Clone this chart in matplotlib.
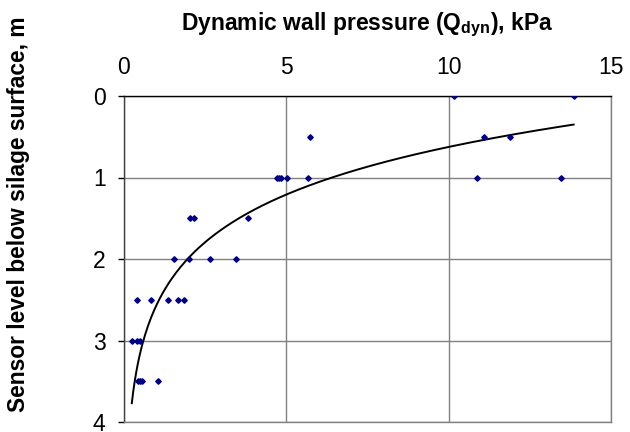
import numpy as np
import matplotlib.pyplot as plt

plt.rcParams['font.family'] = ['Liberation Sans', 'DejaVu Sans']

# dynamic wall pressure (kPa) and sensor level (m)
pressure = [10.16, 13.85,
            5.73, 11.1, 11.89,
            4.71, 4.77, 4.83, 5.02, 5.67, 10.86, 13.45,
            2.03, 2.15, 3.82,
            1.55, 2.01, 2.64, 3.45,
            0.40, 0.82, 1.35, 1.66, 1.85,
            0.24, 0.40, 0.48,
            0.44, 0.49, 0.56, 1.04]
level = [0, 0,
         0.5, 0.5, 0.5,
         1, 1, 1, 1, 1, 1, 1,
         1.5, 1.5, 1.5,
         2, 2, 2, 2,
         2.5, 2.5, 2.5, 2.5, 2.5,
         3, 3, 3,
         3.5, 3.5, 3.5, 3.5]

# log trendline y = a*ln(x) + b
a, b = -0.843, 2.566
xs = np.linspace(min(pressure), max(pressure), 300)
ys = a * np.log(xs) + b

fig = plt.figure(figsize=(6.3, 4.32), dpi=100)
ax = fig.add_axes([124/630, 1-422/432, (611-124)/630, (422-96)/432])

ax.plot(pressure, level, linestyle='none', marker='D', markersize=2.8,
        color='#000080', zorder=3)
ax.plot(xs, ys, color='black', linewidth=1.4, zorder=2)

ax.set_xlim(0, 15)
ax.set_ylim(4, 0)
ax.set_xticks([0, 5, 10, 15])
ax.set_yticks([0, 1, 2, 3, 4])
ax.xaxis.tick_top()
ax.xaxis.set_label_position('top')
ax.tick_params(axis='x', length=0, labelsize=16.5, pad=12)
ax.tick_params(axis='y', length=4.3, width=1, labelsize=16.5, pad=9, direction='out')
ax.grid(True, color='#808080', linewidth=1)
ax.set_axisbelow(True)

ax.spines['top'].set_color('black')
ax.spines['left'].set_color('#404040')
ax.spines['right'].set_color('#808080')
ax.spines['bottom'].set_color('#808080')
for s in ax.spines.values():
    s.set_linewidth(1)

ax.set_xlabel('Dynamic wall pressure (Q$_\\mathregular{dyn}$), kPa',
              fontsize=16.5, fontweight='bold', labelpad=19)
fig.text(19/630, 1-214/432, 'Sensor level below silage surface, m', rotation=90,
         fontsize=16.4, fontweight='bold', ha='center', va='center')

fig.savefig('out.png')
